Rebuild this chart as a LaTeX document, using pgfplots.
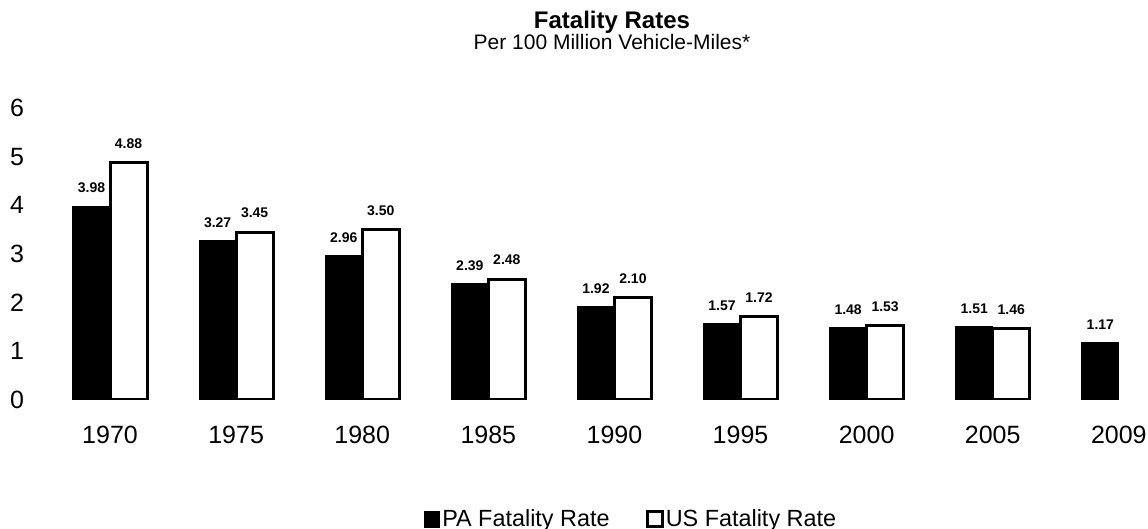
\documentclass[border=0pt]{standalone}
\usepackage{fontspec}
\setmainfont{Liberation Sans}
\usepackage{pgfplots}
\pgfplotsset{compat=1.18}

\begin{document}
\begin{tikzpicture}
\path[use as bounding box] (0,0) rectangle (574pt,264.5pt);

% titles
\node[anchor=base,font=\bfseries\fontsize{12}{14}\selectfont] at (306pt,250.3pt) {Fatality Rates};
\node[anchor=base,font=\fontsize{10.5}{12}\selectfont] at (306pt,239.8pt) {Per 100 Million Vehicle-Miles*};

\begin{axis}[
    at={(23.5pt,64.5pt)}, anchor=south west,
    scale only axis,
    width=567.45pt, height=146pt,
    xmin=-0.5, xmax=8.5,
    ymin=0, ymax=6,
    axis line style={draw=none},
    ybar=0pt, bar width=18.5pt,
    xtick={0,...,8},
    xticklabels={1970,1975,1980,1985,1990,1995,2000,2005,2009},
    ytick={0,...,6},
    /pgf/number format/assume math mode=true,
    tick style={draw=none},
    tick label style={font=\fontsize{12.5}{14}\selectfont},
    yticklabel style={xshift=-8pt},
    xticklabel style={yshift=-5pt},
    nodes near coords={\pgfmathprintnumber[fixed,fixed zerofill,precision=2]{\pgfplotspointmeta}},
    every node near coord/.append style={font=\bfseries\fontsize{7}{8}\selectfont, yshift=3pt},
    legend style={at={(0.5146,-0.408)}, anchor=center, draw=none, fill=none,
        font=\fontsize{11.7}{13}\selectfont, legend columns=2,
        /tikz/every even column/.append style={column sep=17pt},
        nodes={inner sep=1pt}},
    legend image code/.code={\draw[#1] (0.4pt,-3.9pt) rectangle (8pt,3.9pt);},
]

\addplot[fill=black, draw=black, line width=0.6pt] coordinates {
    (0,3.98) (1,3.27) (2,2.96) (3,2.39) (4,1.92) (5,1.57) (6,1.48) (7,1.51) (8,1.17)
};
\addlegendentry{PA Fatality Rate}

\addplot[fill=white, draw=black, line width=1.5pt] coordinates {
    (0,4.88) (1,3.45) (2,3.50) (3,2.48) (4,2.10) (5,1.72) (6,1.53) (7,1.46)
};
\addlegendentry{US Fatality Rate}

\end{axis}
\end{tikzpicture}
\end{document}
